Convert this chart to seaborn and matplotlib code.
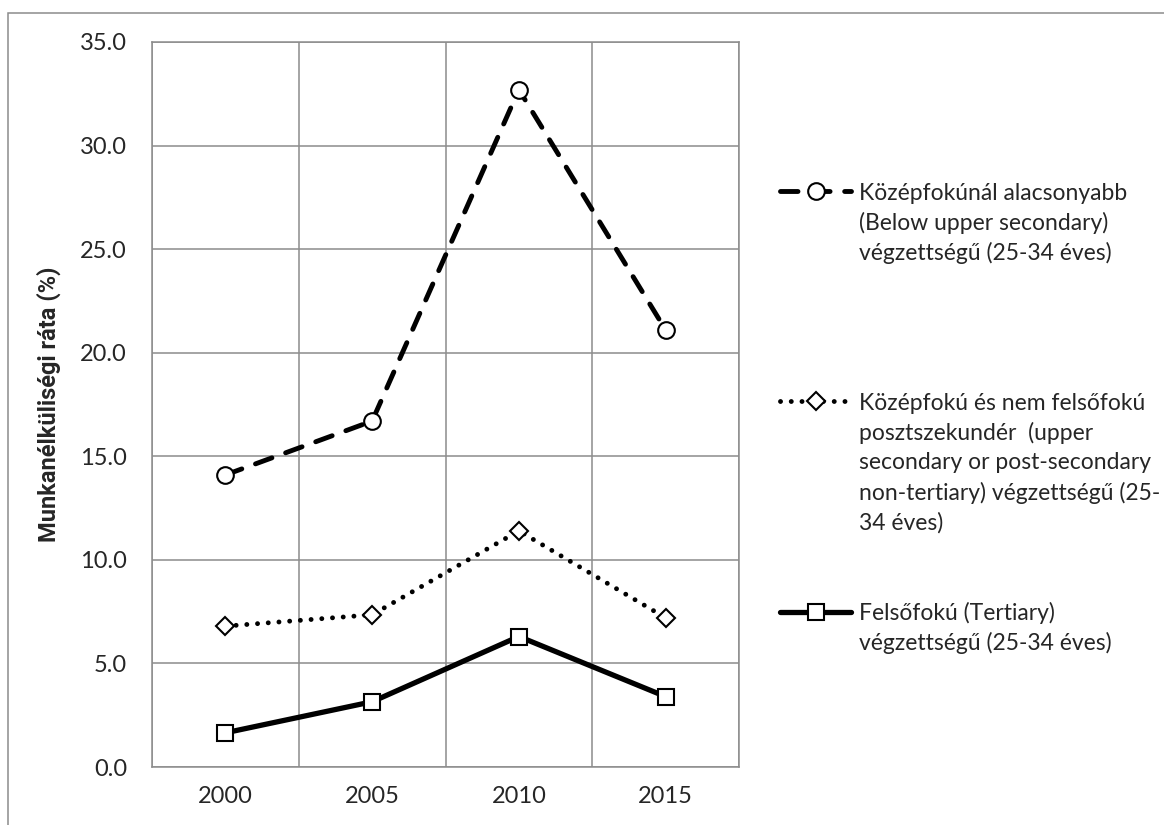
import matplotlib
matplotlib.use("Agg")
import matplotlib.pyplot as plt
from matplotlib.patches import Rectangle
import seaborn as sns
import pandas as pd

# ---------------------------------------------------------
# Data
# ---------------------------------------------------------
years = ["2000", "2005", "2010", "2015"]
below_upper_secondary = [14.1, 16.7, 32.7, 21.1]
upper_secondary = [6.8, 7.35, 11.4, 7.2]
tertiary = [1.65, 3.15, 6.3, 3.4]

y_ticks = [0, 5, 10, 15, 20, 25, 30, 35]
y_label = "Munkanélküliségi ráta (%)"

legend_lines = [
    ["Középfokúnál alacsonyabb", "(Below upper secondary)", "végzettségű (25-34 éves)"],
    ["Középfokú és nem felsőfokú", "posztszekundér  (upper", "secondary or post-secondary",
     "non-tertiary) végzettségű (25-", "34 éves)"],
    ["Felsőfokú (Tertiary)", "végzettségű (25-34 éves)"],
]

# ---------------------------------------------------------
# Style
# ---------------------------------------------------------
sns.set_style("white")
plt.rcParams['font.family'] = ['Lato', 'DejaVu Sans']
FS = 16.5
TICK_FS = 17
GRID = "#8c8c8c"

W, H = 1164, 825
fig = plt.figure(figsize=(W / 100, H / 100), dpi=100)
ax = fig.add_axes([152 / W, 1 - 767 / H, (739 - 152) / W, (767 - 42) / H])

df = pd.DataFrame({"year": years, "below": below_upper_secondary,
                   "upper": upper_secondary, "tertiary": tertiary})

marker_kw = dict(markerfacecolor="white", markeredgecolor="black", markeredgewidth=1.5)
sns.lineplot(data=df, x="year", y="below", ax=ax, sort=False, color="black",
             lw=3.5, linestyle=(0, (3.6, 3.0)), dash_capstyle="round",
             marker="o", markersize=12, **marker_kw)
sns.lineplot(data=df, x="year", y="upper", ax=ax, sort=False, color="black",
             lw=3.5, linestyle=(0, (0.01, 2.2)), dash_capstyle="round",
             marker="D", markersize=9.5, **marker_kw)
sns.lineplot(data=df, x="year", y="tertiary", ax=ax, sort=False, color="black",
             lw=3.8, solid_capstyle="round",
             marker="s", markersize=11, **marker_kw)

# axes, grid and ticks in the Excel look
ax.set_xlim(-0.5, len(years) - 0.5)
ax.set_ylim(0, 35)
ax.set_yticks(y_ticks)
ax.set_yticklabels([f"{v:.1f}" for v in y_ticks], fontsize=TICK_FS)
ax.set_xticks([i - 0.5 for i in range(len(years) + 1)])
ax.set_xticklabels([""] * (len(years) + 1))
ax.set_xticks(range(len(years)), minor=True)
ax.set_xticklabels(years, minor=True, fontsize=TICK_FS)
ax.tick_params(axis="x", which="major", length=6, width=1.1, color=GRID, direction="out")
ax.tick_params(axis="x", which="minor", length=0, pad=14)
ax.tick_params(axis="y", length=6, width=1.1, color=GRID, direction="out", pad=12)
ax.grid(True, which="major", color=GRID, lw=1.1)
for sp in ax.spines.values():
    sp.set_color(GRID)
    sp.set_linewidth(1.1)
ax.set_xlabel("")
ax.set_ylabel(y_label, fontsize=17, fontweight="bold", labelpad=14,
              family=["Roboto", "DejaVu Sans"])

# ---------------------------------------------------------
# Legend: handle next to the first line, rest wrapped below
# ---------------------------------------------------------
handles = ax.get_lines()[:3]
first_y = [193, 403, 613]
line_gap = 30
legends = []
for h, lines, y in zip(handles, legend_lines, first_y):
    leg = fig.legend(handles=[h], labels=[lines[0]], loc="center left",
                     bbox_to_anchor=(780 / W, 1 - y / H), frameon=False,
                     fontsize=FS, handlelength=3.1, handletextpad=0.33,
                     borderpad=0, borderaxespad=0, numpoints=1)
    legends.append(leg)

fig.canvas.draw()
for leg, lines, y in zip(legends, legend_lines, first_y):
    x0 = leg.get_texts()[0].get_window_extent().x0
    for k, txt in enumerate(lines[1:], start=1):
        fig.text(x0 / W, 1 - (y + k * line_gap) / H, txt, fontsize=FS,
                 va="center", ha="left")

# outer chart border (left and top visible)
fig.add_artist(Rectangle((8 / W, -0.1), 1.2, 1 - 13 / H + 0.1, transform=fig.transFigure,
                         fill=False, edgecolor=GRID, lw=1.1))

fig.savefig("out.png", dpi=100)
